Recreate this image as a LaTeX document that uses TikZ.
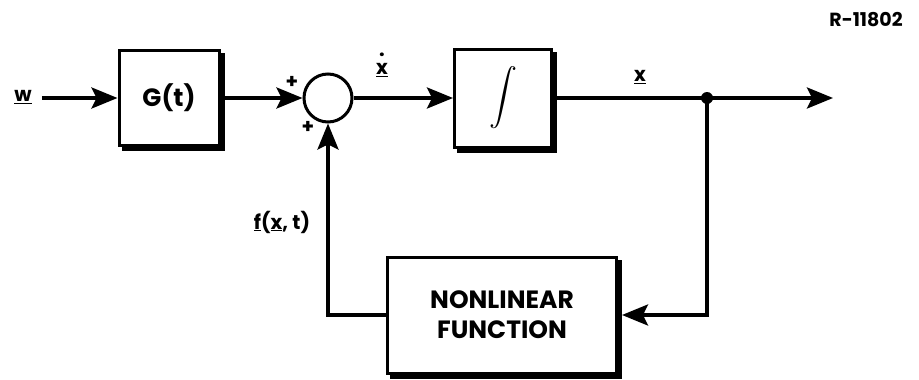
\documentclass[tikz,border=0pt]{standalone}
\usepackage{fontspec}
\setmainfont{Poppins}
\usetikzlibrary{arrows.meta,calc,backgrounds}
\tikzset{
  blk/.style={draw, line width=3pt, fill=white, inner sep=0pt},
  ln/.style={line width=3.5pt},
  arr/.style={ln, -{Stealth[length=26pt,width=21pt,inset=5pt]}},
  lbl/.style={inner sep=0pt, font=\bfseries\fontsize{20}{22}\selectfont},
  boxtxt/.style={font=\bfseries\fontsize{25}{30}\selectfont}
}
\newcommand{\boxshadow}[1]{\fill[black] ($(#1.south west)+(4,4)$) rectangle ($(#1.north east)+(4,4)$);}
\begin{document}
\begin{tikzpicture}[x=1pt,y=-1pt]
% blocks
\node[blk, boxtxt, minimum width=100, minimum height=95] (G) at (169,98) {G(t)};
\node[draw, circle, line width=3pt, minimum size=48, inner sep=0pt] (s) at (328,98) {};
\node[blk, minimum width=97, minimum height=98] (I) at (503,98) {\scalebox{2.8}{$\displaystyle\int$}};
\node[circle, fill=black, minimum size=12, inner sep=0pt] (j) at (707,98) {};
\coordinate (out) at (833,98);
\node[blk, boxtxt, minimum width=229, minimum height=116, align=center] (N) at (502,315) {NONLINEAR\\FUNCTION};
% shadows and background
\begin{scope}[on background layer]
\fill[white] (0,0) rectangle (919,380);
\boxshadow{G}
\boxshadow{I}
\boxshadow{N}
\end{scope}
\useasboundingbox (0,0) rectangle (919,380);
% labels
\node[lbl] (w) at (23,97) {\underline{w}};
\node[lbl] (p1) at (292,82) {+};
\node[lbl] (p2) at (308,127) {+};
\node[lbl] (xd) at (382,70) {\underline{\ooalign{x\cr\hidewidth\raisebox{0.9em}{.}\hidewidth\cr}}};
\node[lbl] (x) at (640,77) {\underline{x}};
\node[lbl] (f) at (282,222) {\underline{f}(\underline{x}, t)};
\node[lbl, font=\bfseries\fontsize{19}{21}\selectfont] (R) at (866,20) {R-11802};
% connectors
\draw[arr] ($(w.east |- G.west)+(10,0)$) -- (G.west);
\draw[arr] (G.east) -- (s.west);
\draw[arr] (s.east) -- (I.west);
\draw[ln] (I.east) -- (j.center);
\draw[arr] (j.center) -- (out);
\draw[arr] (j.center) |- ($(N.east)+(4,0)$);
\draw[arr] (N.west) -| (s.south);
\end{tikzpicture}
\end{document}
